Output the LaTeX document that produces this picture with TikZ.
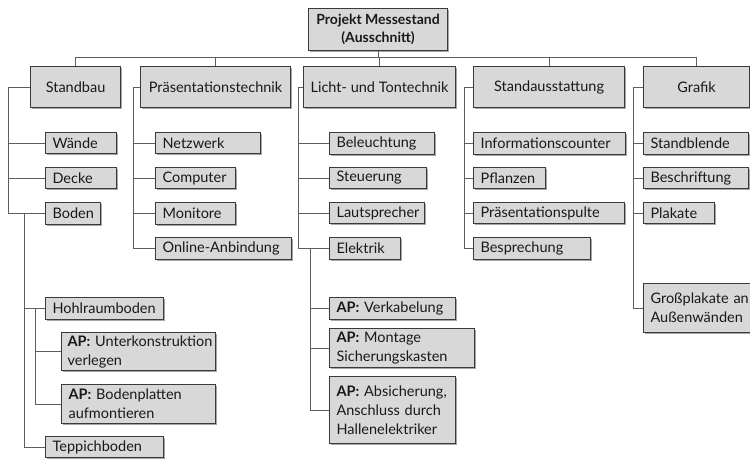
\documentclass[tikz,border=0pt]{standalone}
\usepackage{fontspec}
\setmainfont{Lato}
\usetikzlibrary{shadows}
\definecolor{boxfill}{HTML}{D8D8D8}
\definecolor{boxline}{HTML}{3A3A3A}
\definecolor{wire}{HTML}{5E5E5E}
\tikzset{
  card/.style={draw=boxline, line width=1.1pt, fill=boxfill,
    drop shadow={shadow xshift=1.8pt, shadow yshift=-1.8pt, fill=black, opacity=0.35},
    anchor=north west, inner xsep=7pt, inner ysep=0pt, text=black!90,
    font=\fontsize{14.5}{19}\selectfont},
  head/.style={card, align=center, inner xsep=0pt},
  leaf/.style={card, align=left},
  wire/.style={draw=wire, line width=1pt},
}
\begin{document}
\hyphenpenalty=10000
\exhyphenpenalty=10000
\begin{tikzpicture}[x=1pt, y=-1pt]
\useasboundingbox (0,0) rectangle (750,460);
\clip (0,0) rectangle (750,460);

% root
\node[head, minimum width=139pt, minimum height=42pt, font=\bfseries\fontsize{14}{18}\selectfont] (root) at (308,8) {Projekt Messestand\\(Ausschnitt)};

% first level
\node[head, minimum width=90pt,  minimum height=41pt] (standbau) at (30,66)  {Standbau};
\node[head, minimum width=150pt, minimum height=41pt] (praes)    at (140,66) {Präsentationstechnik};
\node[head, minimum width=152pt, minimum height=41pt] (licht)    at (303,66) {Licht- und Tontechnik};
\node[head, minimum width=151pt, minimum height=41pt] (ausst)    at (473,66) {Standausstattung};
\node[head, minimum width=106pt, minimum height=41pt] (grafik)   at (643,66) {Grafik};

% Standbau
\node[leaf, text width=57pt,  minimum height=21pt] (waende)  at (45,132) {Wände};
\node[leaf, text width=57pt,  minimum height=21pt] (decke)   at (45,167) {Decke};
\node[leaf, text width=41pt,  minimum height=22pt] (boden)   at (45,202) {Boden};
\node[leaf, text width=104pt, minimum height=22pt] (hohl)    at (45,297) {Hohlraumboden};
\node[leaf, inner xsep=6pt, text width=142pt, minimum height=38pt] (unterk)  at (61,332) {\mbox{\textbf{AP:} Unterkonstruktion}\\verlegen};
\node[leaf, text width=140pt, minimum height=39pt] (bodenpl) at (61,384) {\textbf{AP:} Bodenplatten\\aufmontieren};
\node[leaf, text width=104pt, minimum height=21pt] (teppich) at (45,436) {Teppichboden};

% Präsentationstechnik
\node[leaf, text width=91pt,  minimum height=21pt] (netz)   at (155,132) {Netzwerk};
\node[leaf, text width=66pt,  minimum height=21pt] (comp)   at (155,167) {Computer};
\node[leaf, text width=66pt,  minimum height=22pt] (monit)  at (155,202) {Monitore};
\node[leaf, text width=122pt, minimum height=22pt] (online) at (155,237) {Online-Anbindung};

% Licht- und Tontechnik
\node[leaf, text width=91pt,  minimum height=22pt] (beleucht) at (329,132) {Beleuchtung};
\node[leaf, text width=83pt,  minimum height=21pt] (steuer)   at (329,167) {Steuerung};
\node[leaf, text width=81pt,  minimum height=21pt] (lauts)    at (329,202) {Lautsprecher};
\node[leaf, text width=57pt,  minimum height=22pt] (elektrik) at (329,237) {Elektrik};
\node[leaf, text width=112pt, minimum height=22pt] (verkab)   at (329,297) {\textbf{AP:} Verkabelung};
\node[leaf, text width=131pt, minimum height=39pt] (montage)  at (329,328) {\textbf{AP:} Montage\\Sicherungskasten};
\node[leaf, text width=112pt, minimum height=67pt] (absich)   at (329,376) {\textbf{AP:} Absicherung,\\Anschluss durch\\Hallenelektriker};

% Standausstattung
\node[leaf, text width=138pt, minimum height=22pt] (info)  at (473,132) {Informationscounter};
\node[leaf, text width=58pt,  minimum height=21pt] (pflanz) at (473,167) {Pflanzen};
\node[leaf, text width=137pt, minimum height=21pt] (pulte) at (473,202) {Präsentationspulte};
\node[leaf, text width=103pt, minimum height=22pt] (bespr) at (473,237) {Besprechung};

% Grafik
\node[leaf, text width=91pt,  minimum height=22pt] (standbl) at (643,132) {Standblende};
\node[leaf, text width=91pt,  minimum height=21pt] (beschr)  at (643,167) {Beschriftung};
\node[leaf, text width=57pt,  minimum height=21pt] (plakate) at (643,202) {Plakate};
\node[leaf, text width=110pt, minimum height=49pt] (gross)   at (643,283) {Großplakate an\\Außenwänden};

% spine positions
\coordinate (bus) at (0,58);
\coordinate (sA) at (8,0);
\coordinate (sA2) at (24,0);
\coordinate (sA3) at (35,0);
\coordinate (sB) at (133,0);
\coordinate (sC) at (298,0);
\coordinate (sC2) at (310,0);
\coordinate (sD) at (464,0);
\coordinate (sE) at (633,0);

% top bus
\draw[wire] (root.south) -- (root.south |- bus);
\draw[wire] (standbau.north) -- (standbau.north |- bus) -- (grafik.north |- bus) -- (grafik.north);
\draw[wire] (praes.north) -- (praes.north |- bus);
\draw[wire] (licht.north) -- (licht.north |- bus);
\draw[wire] (ausst.north) -- (ausst.north |- bus);

% Standbau branch
\draw[wire] (standbau.west) -- (standbau.west -| sA) -- (boden.west -| sA) -- (boden.west);
\draw[wire] (waende.west) -- (waende.west -| sA);
\draw[wire] (decke.west) -- (decke.west -| sA);
\draw[wire] (boden.west -| sA2) -- (teppich.west -| sA2) -- (teppich.west);
\draw[wire] (hohl.west) -- (hohl.west -| sA2);
\draw[wire] (hohl.west -| sA3) -- (bodenpl.west -| sA3) -- (bodenpl.west);
\draw[wire] (unterk.west) -- (unterk.west -| sA3);

% Präsentationstechnik branch
\draw[wire] (praes.west) -- (praes.west -| sB) -- (online.west -| sB) -- (online.west);
\draw[wire] (netz.west) -- (netz.west -| sB);
\draw[wire] (comp.west) -- (comp.west -| sB);
\draw[wire] (monit.west) -- (monit.west -| sB);

% Licht- und Tontechnik branch
\draw[wire] (licht.west) -- (licht.west -| sC) -- (elektrik.west -| sC) -- (elektrik.west);
\draw[wire] (beleucht.west) -- (beleucht.west -| sC);
\draw[wire] (steuer.west) -- (steuer.west -| sC);
\draw[wire] (lauts.west) -- (lauts.west -| sC);
\draw[wire] (elektrik.west -| sC2) -- (absich.west -| sC2) -- (absich.west);
\draw[wire] (verkab.west) -- (verkab.west -| sC2);
\draw[wire] (montage.west) -- (montage.west -| sC2);

% Standausstattung branch
\draw[wire] (ausst.west) -- (ausst.west -| sD) -- (bespr.west -| sD) -- (bespr.west);
\draw[wire] (info.west) -- (info.west -| sD);
\draw[wire] (pflanz.west) -- (pflanz.west -| sD);
\draw[wire] (pulte.west) -- (pulte.west -| sD);

% Grafik branch
\draw[wire] (grafik.west) -- (grafik.west -| sE) -- (gross.west -| sE) -- (gross.west);
\draw[wire] (standbl.west) -- (standbl.west -| sE);
\draw[wire] (beschr.west) -- (beschr.west -| sE);
\draw[wire] (plakate.west) -- (plakate.west -| sE);
\end{tikzpicture}
\end{document}
